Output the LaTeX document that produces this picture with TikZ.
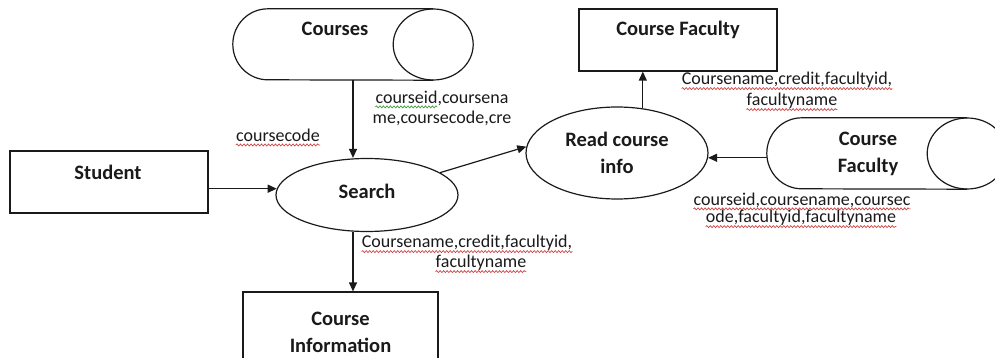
\documentclass[tikz,border=0pt]{standalone}
\usepackage{fontspec}
\setmainfont{Carlito}
\usetikzlibrary{arrows.meta,shapes.geometric,decorations.pathmorphing}

\definecolor{ink}{HTML}{1A1A1A}
\definecolor{spellred}{HTML}{D04545}
\definecolor{spellgreen}{HTML}{3F9F3F}

\begin{document}
\begin{tikzpicture}[x=1pt,y=-1pt,
  every node/.style={text=ink},
  wire/.style={draw=ink, line width=1.2pt},
  flow/.style={wire, -{Triangle[length=9pt,width=8pt]}},
  box/.style={wire, rectangle, inner sep=0pt},
  proc/.style={wire, ellipse, inner sep=0pt, font=\fontsize{20.5}{27}\selectfont\bfseries, align=center},
  frame/.style={rectangle, inner sep=0pt, minimum width=240pt, minimum height=71pt},
  title/.style={font=\fontsize{20.5}{27}\selectfont\bfseries, align=center, inner sep=0pt},
  flowlabel/.style={font=\fontsize{18}{20}\selectfont, align=center, inner sep=0pt},
  wave/.style={draw=#1, line width=0.7pt, decorate,
    decoration={snake, amplitude=1pt, segment length=3.5pt}},
  misspelt/.style={append after command={
    ([yshift=-3.8pt]\tikzlastnode.base west) edge[wave=spellred] ([yshift=-3.8pt]\tikzlastnode.base east)}}]

\path[use as bounding box] (0,0) rectangle (995,358);
\clip (0,0) rectangle (995,358);

% external entities
\node[box, minimum width=198pt, minimum height=62pt] (student) at (109,182) {};
\node[title] (studenttext) at (108,172) {Student};

\node[box, minimum width=198pt, minimum height=62pt] (cfbox) at (678,40) {};
\node[title] (cfboxtext) at (678,30) {Course Faculty};

\node[box, minimum width=195pt, minimum height=72pt] (cinfo) at (340.5,328) {};
\node[title] (cinfotext) at (340.5,332) {Course\\Information};

% data stores
\node[frame] (courses) at (353,44.5) {};
\draw[wire] ([xshift=-40pt]courses.north east) -- ([xshift=35pt]courses.north west)
  arc[start angle=90, end angle=270, x radius=35pt, y radius=35.5pt]
  -- ([xshift=-40pt]courses.south east);
\draw[wire] ([xshift=-40pt]courses.east) ellipse [x radius=40pt, y radius=35.5pt];
\node[title] (coursestext) at (335,29) {Courses};

\node[frame] (cfstore) at (887,153.5) {};
\draw[wire] ([xshift=-40pt]cfstore.north east) -- ([xshift=35pt]cfstore.north west)
  arc[start angle=90, end angle=270, x radius=35pt, y radius=35.5pt]
  -- ([xshift=-40pt]cfstore.south east);
\draw[wire] ([xshift=-40pt]cfstore.east) ellipse [x radius=40pt, y radius=35.5pt];
\node[title] (cfstoretext) at (868,153.5) {Course\\Faculty};

% processes
\node[proc, minimum width=182pt, minimum height=73pt] (search) at (367,195) {\raisebox{7pt}{Search}};
\node[proc, minimum width=182pt, minimum height=92pt] (readinfo) at (617,153) {Read course\\info};

% data flows
\draw[flow] (courses.south) -- (courses.south |- search.north);
\draw[flow] (student.east |- search.176) -- (search.176);
\draw[flow] (search.17) -- (readinfo.176);
\draw[flow] (readinfo.60) -- (readinfo.60 |- cfbox.south);
\draw[flow] (cfstore.west |- readinfo.-3) -- (readinfo.-3);
\draw[flow] (courses.south |- search.south) -- (courses.south |- cinfo.north);

% flow labels
\node[flowlabel, misspelt] (lblcode) at (278,135) {coursecode};

\node[flowlabel] (lblcourses1) at (442,98) {courseid,coursena};
\node[flowlabel] (lblcourses2) at (442,118) {me,coursecode,cre};
\draw[wave=spellgreen] ([yshift=-3.8pt]lblcourses1.base west) -- ([xshift=62pt,yshift=-3.8pt]lblcourses1.base west);

\node[flowlabel, misspelt] (lblcf1) at (787,80) {Coursename,credit,facultyid,};
\node[flowlabel, misspelt] (lblcf2) at (792,101) {facultyname};

\node[flowlabel, misspelt] (lblsearch1) at (467,243) {Coursename,credit,facultyid,};
\node[flowlabel, misspelt] (lblsearch2) at (481,263) {facultyname};

\node[flowlabel, misspelt] (lblstore1) at (802,200) {courseid,coursename,coursec};
\node[flowlabel, misspelt] (lblstore2) at (801,218) {ode,facultyid,facultyname};
\end{tikzpicture}
\end{document}
